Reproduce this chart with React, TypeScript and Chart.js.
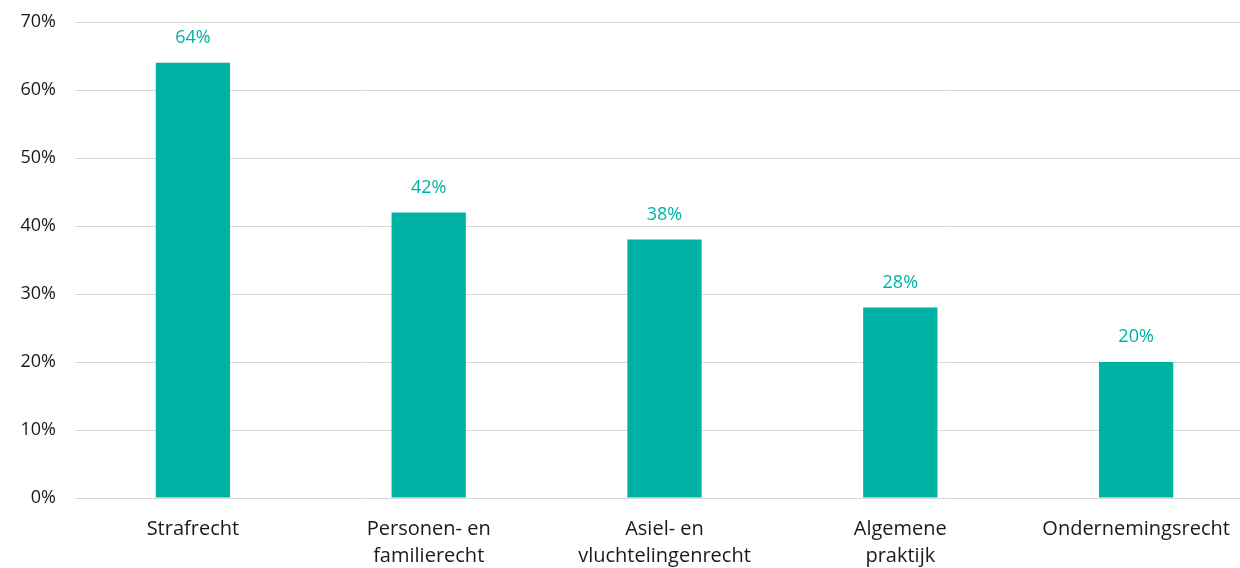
import React, { useEffect, useRef } from "react";
import { Chart, registerables } from "chart.js";

Chart.register(...registerables);

const categories: (string | string[])[] = [
  "Strafrecht",
  ["Personen- en", "familierecht"],
  ["Asiel- en", "vluchtelingenrecht"],
  ["Algemene", "praktijk"],
  "Ondernemingsrecht",
];
const values: number[] = [64, 42, 38, 28, 20];
const yTicks: number[] = [0, 10, 20, 30, 40, 50, 60, 70];

const TEAL = "#00b2a3";
const TEXT = "#1a1a1a";
const GRID = "#d9d9d9";
const FONT = "'Open Sans', Lato, sans-serif";

const valueLabels = {
  id: "valueLabels",
  afterDatasetsDraw(chart: any) {
    const ctx = chart.ctx;
    const meta = chart.getDatasetMeta(0);
    ctx.save();
    ctx.fillStyle = TEAL;
    ctx.font = `18px ${FONT}`;
    ctx.textAlign = "center";
    ctx.textBaseline = "middle";
    meta.data.forEach((bar: any, i: number) => {
      ctx.fillText(values[i] + "%", bar.x, bar.y - 25);
    });
    ctx.restore();
  },
};

// the plot area continues past the right edge of the picture
const extendRight = {
  id: "extendRight",
  afterLayout(chart: any) {
    const extra = 14;
    const x = chart.scales.x;
    x.right += extra;
    x.width += extra;
    x.configure();
    chart.chartArea.right += extra;
    chart.chartArea.width += extra;
  },
};

const zeroPad = (s: any) => {
  s.paddingLeft = 0;
  s.paddingRight = 0;
  s.paddingTop = 0;
  s.paddingBottom = 0;
};

export default function App() {
  const ref = useRef<HTMLCanvasElement | null>(null);
  useEffect(() => {
    if (!ref.current) return;
    const chart = new Chart(ref.current, {
      type: "bar",
      data: {
        labels: categories as any,
        datasets: [
          {
            data: values,
            backgroundColor: TEAL,
            borderWidth: 0,
            barPercentage: 0.63,
            categoryPercentage: 0.5,
          },
        ],
      },
      options: {
        animation: false,
        responsive: true,
        maintainAspectRatio: false,
        layout: { padding: { top: 13, left: 0, right: 0, bottom: 0 } },
        plugins: {
          legend: { display: false },
          tooltip: { enabled: false },
        },
        scales: {
          x: {
            grid: { display: false },
            border: { display: false },
            ticks: {
              color: TEXT,
              font: { family: FONT, size: 20, lineHeight: 1.35 },
              padding: 10,
              maxRotation: 0,
              autoSkip: false,
            },
            afterFit: (s: any) => {
              s.height = 70;
              zeroPad(s);
            },
          },
          y: {
            min: 0,
            max: 70,
            afterBuildTicks: (s: any) => {
              s.ticks = yTicks.map((v) => ({ value: v }));
            },
            grid: { color: GRID, lineWidth: 1, drawTicks: false },
            border: { display: false },
            ticks: {
              color: TEXT,
              font: { family: FONT, size: 18 },
              padding: 19,
              callback: (v: any) => v + "%",
            },
            afterFit: (s: any) => {
              s.width = 67;
              zeroPad(s);
            },
          },
        },
      },
      plugins: [extendRight, valueLabels],
    });
    return () => chart.destroy();
  }, []);
  return (
    <div
      style={{
        position: "fixed",
        left: 0,
        top: 0,
        width: 1240,
        height: 568,
        overflow: "hidden",
      }}
    >
      <div
        style={{
          position: "absolute",
          left: 8,
          top: 9,
          width: 1232,
          height: 559,
        }}
      >
        <canvas ref={ref} />
      </div>
    </div>
  );
}
